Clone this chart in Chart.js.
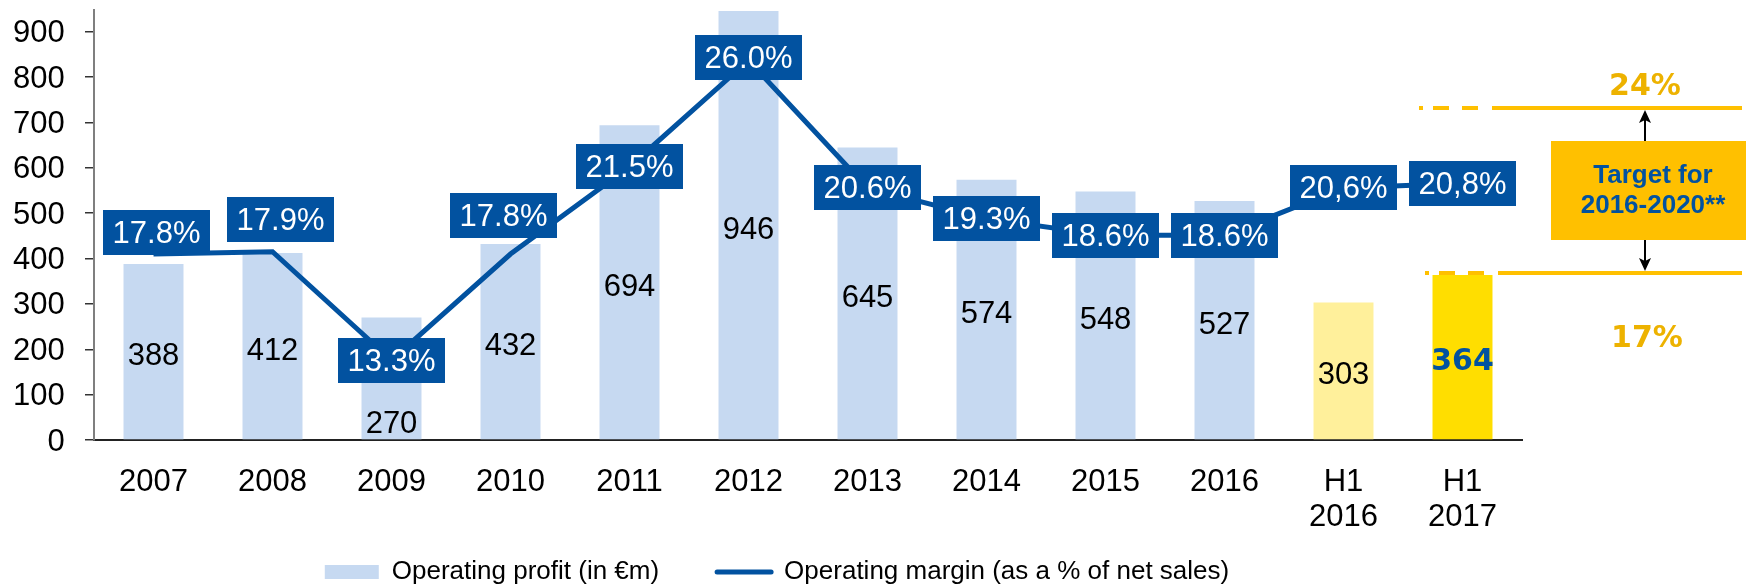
<!DOCTYPE html>
<html lang="en">
<head>
<meta charset="UTF-8">
<title>Operating profit and operating margin</title>
<script src="https://cdn.jsdelivr.net/npm/chart.js"></script>
<style>
  html, body { margin: 0; padding: 0; background: #fff; }
  #wrap { width: 1746px; height: 586px; }
</style>
</head>
<body>
<div id="wrap"><canvas id="marginChart" width="1746" height="586"></canvas></div>
<script>
// --- data ---
const categories = ['2007', '2008', '2009', '2010', '2011', '2012', '2013', '2014', '2015', '2016', ['H1', '2016'], ['H1', '2017']];
const operatingProfit = [388, 412, 270, 432, 694, 946, 645, 574, 548, 527, 303, 364];   // in €m
const operatingMargin = [17.8, 17.9, 13.3, 17.8, 21.5, 26.0, 20.6, 19.3, 18.6, 18.6, 20.6, 20.8]; // % of net sales
const targetRange = [17, 24];                  // target margin band, %
const targetLabel = ['Target for', '2016-2020**'];
const legendLabels = ['Operating profit (in €m)', 'Operating margin (as a % of net sales)'];

// --- styles ---
const FONT = '"Liberation Sans", Arial, sans-serif';
const HEAVY = '"DejaVu Sans", Verdana, sans-serif';
const BLUE = '#0252A0';
const GOLD = '#FFC000';
const GOLD_TEXT = '#EDB200';
const barColors = ['#C6D9F1', '#C6D9F1', '#C6D9F1', '#C6D9F1', '#C6D9F1', '#C6D9F1',
                   '#C6D9F1', '#C6D9F1', '#C6D9F1', '#C6D9F1', '#FFF09B', '#FFDE00'];

// tags that would sit on top of the line get pushed up a bit
const tagShift = { 0: [3, -22], 1: [8, -32], 3: [-7, -39], 5: [0, -3] };

function fmtMargin(i) {
  let s = operatingMargin[i].toFixed(1);
  if (Array.isArray(categories[i])) s = s.replace('.', ',');
  return s + '%';
}

// bar values + blue margin tags
const valueLabels = {
  id: 'valueLabels',
  afterDatasetsDraw(chart) {
    const ctx = chart.ctx;
    const bars = chart.getDatasetMeta(0).data;
    ctx.save();
    ctx.textAlign = 'center';
    ctx.textBaseline = 'middle';
    bars.forEach((bar, i) => {
      const last = i === bars.length - 1;
      let y = (bar.y + bar.base) / 2 + 5;
      if (i === 2) y = bar.base - 15;  // 2009: keep clear of the tag
      ctx.font = last ? 'bold 30px ' + HEAVY : '31px ' + FONT;
      ctx.fillStyle = last ? BLUE : '#000';
      ctx.fillText(String(operatingProfit[i]), bar.x, y);
    });

    const pts = chart.getDatasetMeta(1).data;
    ctx.font = '31px ' + FONT;
    pts.forEach((pt, i) => {
      const [dx, dy] = tagShift[i] || [0, 0];
      const cx = pt.x + dx, cy = pt.y + dy;
      ctx.fillStyle = BLUE;
      ctx.fillRect(Math.round(cx - 53.5), Math.round(cy - 22.5), 107, 45);
      ctx.fillStyle = '#fff';
      ctx.fillText(fmtMargin(i), cx, cy + 2);
    });
    ctx.restore();
  }
};

// target band on the right, hung off the margin scale
const targetBand = {
  id: 'targetBand',
  afterDraw(chart) {
    const ctx = chart.ctx;
    const y2 = chart.scales.y2;
    const yLo = Math.round(y2.getPixelForValue(targetRange[0]));
    const yHi = Math.round(y2.getPixelForValue(targetRange[1]));
    const right = chart.width - 4;
    const ax = 1645;
    ctx.save();

    ctx.strokeStyle = GOLD;
    ctx.lineWidth = 4;
    [[yHi, 1419], [yLo, 1425]].forEach(([y, x0]) => {
      const segs = [[x0, x0 + 4], [x0 + 14, x0 + 30], [x0 + 43, x0 + 59], [x0 + 73, right]];
      segs.forEach(([a, b]) => {
        ctx.beginPath();
        ctx.moveTo(a, y);
        ctx.lineTo(b, y);
        ctx.stroke();
      });
    });

    const boxTop = yHi + 33, boxBot = yLo - 33;
    ctx.fillStyle = GOLD;
    ctx.fillRect(1551, boxTop, chart.width - 1551, boxBot - boxTop);

    ctx.fillStyle = BLUE;
    ctx.font = 'bold 26px ' + FONT;
    ctx.textAlign = 'center';
    ctx.textBaseline = 'middle';
    const mid = (boxTop + boxBot) / 2;
    ctx.fillText(targetLabel[0], 1653, mid - 15);
    ctx.fillText(targetLabel[1], 1653, mid + 15);

    // arrows from the box out to both limits
    ctx.strokeStyle = '#000';
    ctx.fillStyle = '#000';
    ctx.lineWidth = 2;
    ctx.beginPath();
    ctx.moveTo(ax, yHi + 12); ctx.lineTo(ax, boxTop);
    ctx.moveTo(ax, boxBot); ctx.lineTo(ax, yLo - 12);
    ctx.stroke();
    ctx.beginPath();
    ctx.moveTo(ax, yHi + 2); ctx.lineTo(ax - 6, yHi + 15); ctx.lineTo(ax, yHi + 12); ctx.lineTo(ax + 6, yHi + 15);
    ctx.closePath(); ctx.fill();
    ctx.beginPath();
    ctx.moveTo(ax, yLo - 2); ctx.lineTo(ax - 6, yLo - 15); ctx.lineTo(ax, yLo - 12); ctx.lineTo(ax + 6, yLo - 15);
    ctx.closePath(); ctx.fill();

    ctx.fillStyle = GOLD_TEXT;
    ctx.font = 'bold 30px ' + HEAVY;
    ctx.fillText(targetRange[1] + '%', ax, yHi - 21);
    ctx.fillText(targetRange[0] + '%', ax + 2, yLo + 66);
    ctx.restore();
  }
};

new Chart(document.getElementById('marginChart'), {
  data: {
    labels: categories,
    datasets: [
      {
        type: 'bar',
        label: legendLabels[0],
        data: operatingProfit,
        backgroundColor: barColors,
        yAxisID: 'y',
        order: 2,
        barPercentage: 0.504,
        categoryPercentage: 1
      },
      {
        type: 'line',
        label: legendLabels[1],
        data: operatingMargin,
        yAxisID: 'y2',
        borderColor: BLUE,
        borderWidth: 5,
        pointRadius: 0,
        tension: 0,
        order: 1
      }
    ]
  },
  options: {
    responsive: false,
    animation: false,
    devicePixelRatio: 1,
    layout: { padding: { left: 32, right: 224, top: 10, bottom: -9 } },
    plugins: {
      tooltip: { enabled: false },
      legend: {
        position: 'bottom',
        labels: {
          usePointStyle: true,
          pointStyleWidth: 54,
          boxHeight: 14,
          padding: 58,
          color: '#000',
          font: { family: FONT, size: 26 },
          generateLabels: () => [
            { text: legendLabels[0], fillStyle: '#C6D9F1', strokeStyle: '#C6D9F1', lineWidth: 0,
              pointStyle: 'rect', hidden: false, datasetIndex: 0, fontColor: '#000' },
            { text: legendLabels[1], fillStyle: BLUE, strokeStyle: BLUE, lineWidth: 5, lineCap: 'round',
              pointStyle: 'line', hidden: false, datasetIndex: 1, fontColor: '#000' }
          ]
        }
      }
    },
    scales: {
      x: {
        grid: { display: false, drawTicks: false },
        border: { display: true, color: '#222', width: 2 },
        // mirrored so the two-line labels are not clipped to the short axis box
        ticks: {
          mirror: true,
          color: '#000',
          font: { family: FONT, size: 31, lineHeight: 1.13 },
          padding: -60,
          maxRotation: 0,
          autoSkip: false
        },
        afterFit(scale) { scale.height = 61; }
      },
      y: {
        min: 0,
        max: 948,
        border: { color: '#7f7f7f', width: 2 },
        grid: { drawOnChartArea: false, tickLength: 9, color: '#333', lineWidth: 1.5 },
        ticks: {
          stepSize: 100,
          includeBounds: false,
          mirror: true,
          crossAlign: 'far',
          color: '#000',
          font: { family: FONT, size: 31 },
          padding: -81,
          labelOffset: 2
        },
        afterFit(scale) { scale.width = 62; }
      },
      y2: { display: false, min: 9.92, max: 28.14 }
    }
  },
  plugins: [valueLabels, targetBand]
});
</script>
</body>
</html>
